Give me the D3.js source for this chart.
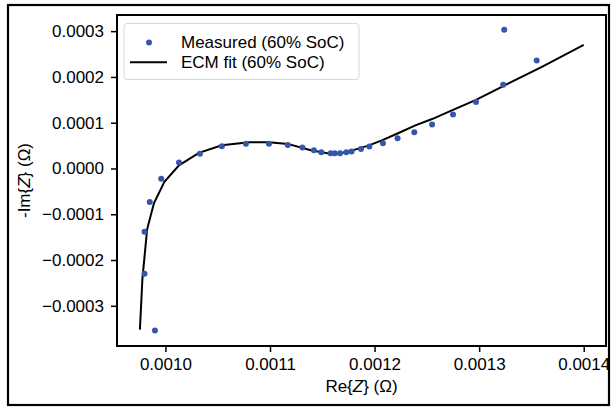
<!DOCTYPE html>
<html><head><meta charset="utf-8">
<script src="https://cdn.jsdelivr.net/npm/d3@7"></script>
<style>
html,body{margin:0;padding:0;background:#fff;}
text{font-family:"Liberation Sans",Arial,sans-serif;fill:#000;}
</style></head>
<body>
<svg id="c" width="613" height="407"></svg>
<script>
// Measured data (Re, -Im)
const measRe = [0.000990,0.000980,0.000980,0.000985,0.000996,0.001013,0.001033,0.001054,0.001077,0.001099,0.001117,0.001131,0.001142,0.001149,0.001158,0.001162,0.001167,0.001173,0.001178,0.001187,0.001195,0.001208,0.001222,0.001238,0.001255,0.001275,0.001297,0.001323,0.001324,0.001355];
const measIm = [-0.000354,-0.000230,-0.000138,-0.0000732,-0.0000225,0.000013,0.000032,0.0000485,0.0000543,0.0000543,0.0000515,0.0000457,0.0000398,0.0000354,0.0000333,0.0000333,0.0000333,0.0000354,0.0000370,0.0000428,0.0000478,0.0000550,0.0000659,0.0000790,0.0000963,0.000118,0.000145,0.000183,0.000303,0.000236];
// ECM fit curve
const fitRe = [0.0009756,0.000978,0.0009825,0.000989,0.000999,0.001013,0.001032,0.001054,0.001080,0.001099,0.001117,0.001139,0.001156,0.001167,0.001178,0.001194,0.001207,0.001223,0.001239,0.001255,0.001275,0.001297,0.001323,0.001360,0.001400];
const fitIm = [-0.000352,-0.000241,-0.000133,-0.000076,-0.000029,0.000007,0.000034,0.0000507,0.0000572,0.0000572,0.0000537,0.0000400,0.0000326,0.0000326,0.0000391,0.0000500,0.0000615,0.0000776,0.0000941,0.000108,0.000128,0.000150,0.000180,0.000222,0.000270];
const xTicks = [0.0010,0.0011,0.0012,0.0013,0.0014];
const yTicks = [-0.0003,-0.0002,-0.0001,0.0000,0.0001,0.0002,0.0003];
const labels = {meas:"Measured (60% SoC)", fit:"ECM fit (60% SoC)", x:"Re{Z} (Ω)", y:"-Im{Z} (Ω)"};

const FS = 17;
const svg = d3.select("#c");
const L=117, T=15, R=606, B=346;
const x = d3.scaleLinear().domain([0.0009537,0.0014213]).range([L,R]);
const y = d3.scaleLinear().domain([-0.0003878,0.0003353]).range([B,T]);
const fmt = v => { const s = Math.abs(v).toFixed(4); return (v < -1e-12 ? "\u2212" : "") + s; };

// outer figure frame
svg.append("rect").attr("x",8).attr("y",5).attr("width",601).attr("height",400)
  .attr("fill","none").attr("stroke","#000").attr("stroke-width",2.2);

const g = svg.append("g");
// axes
const xa = g.append("g").attr("transform",`translate(0,${B})`)
  .call(d3.axisBottom(x).tickValues(xTicks).tickFormat(fmt).tickSize(6).tickPadding(6));
const ya = g.append("g").attr("transform",`translate(${L},0)`)
  .call(d3.axisLeft(y).tickValues(yTicks).tickFormat(fmt).tickSize(6).tickPadding(7));
[xa,ya].forEach(a=>{
  a.select(".domain").remove();
  a.selectAll(".tick line").attr("stroke","#000").attr("stroke-width",1.5);
  a.selectAll(".tick text").attr("font-size",FS).attr("font-family","Liberation Sans, Arial, sans-serif").attr("fill","#000");
});

// fit line
const pts = fitRe.map((r,i)=>[r,fitIm[i]]);
g.append("path").datum(pts)
  .attr("d", d3.line().x(d=>x(d[0])).y(d=>y(d[1])))
  .attr("fill","none").attr("stroke","#000").attr("stroke-width",2);

// measured points
g.selectAll("circle.m").data(measRe.map((r,i)=>[r,measIm[i]])).enter()
  .append("circle").attr("class","m")
  .attr("cx",d=>x(d[0])).attr("cy",d=>y(d[1])).attr("r",3)
  .attr("fill","#3557ab");

// plot frame
g.append("rect").attr("x",L).attr("y",T).attr("width",R-L).attr("height",B-T)
  .attr("fill","none").attr("stroke","#000").attr("stroke-width",2);

// legend
const lg = svg.append("g");
lg.append("rect").attr("x",124).attr("y",23.5).attr("width",235).attr("height",56).attr("rx",3)
  .attr("fill","#fff").attr("fill-opacity",0.8).attr("stroke","#d8d8d8").attr("stroke-width",1);
lg.append("circle").attr("cx",149).attr("cy",42.5).attr("r",3).attr("fill","#3557ab");
lg.append("line").attr("x1",130).attr("x2",167).attr("y1",62.3).attr("y2",62.3).attr("stroke","#000").attr("stroke-width",2);
lg.append("text").attr("x",181).attr("y",42.5).attr("dy","0.35em").attr("font-size",FS).text(labels.meas);
lg.append("text").attr("x",181).attr("y",62.3).attr("dy","0.35em").attr("font-size",FS).text(labels.fit);

// axis labels with italic Z
function mathLabel(sel, pre, post){
  sel.append("tspan").text(pre);
  sel.append("tspan").attr("font-style","italic").text("Z");
  sel.append("tspan").text(post);
}
const xl = svg.append("text").attr("x",(L+R)/2).attr("y",392).attr("text-anchor","middle").attr("font-size",FS);
mathLabel(xl,"Re{","} (Ω)");
const yl = svg.append("text").attr("transform",`translate(30,${(T+B)/2}) rotate(-90)`).attr("text-anchor","middle").attr("font-size",FS);
mathLabel(yl,"-Im{","} (Ω)");
</script>
</body></html>
